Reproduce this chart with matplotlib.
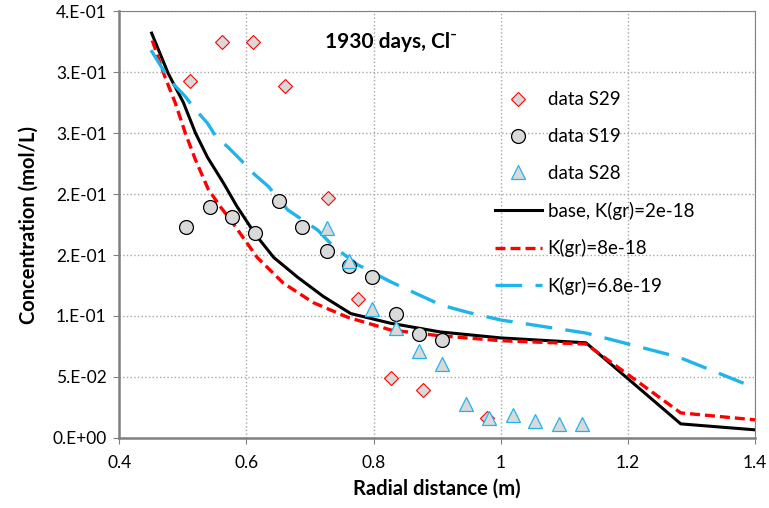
import numpy as np
import matplotlib
matplotlib.use("Agg")
import matplotlib.pyplot as plt

plt.rcParams['font.family'] = ['Lato', 'DejaVu Sans']

# measured data
s29_x = [0.512, 0.562, 0.611, 0.661, 0.728, 0.776, 0.827, 0.877, 0.978]
s29_y = [0.293, 0.325, 0.325, 0.289, 0.197, 0.114, 0.049, 0.039, 0.016]

s19_x = [0.505, 0.542, 0.578, 0.614, 0.652, 0.688, 0.726, 0.762, 0.798, 0.835, 0.872, 0.907]
s19_y = [0.173, 0.189, 0.181, 0.168, 0.194, 0.173, 0.153, 0.141, 0.132, 0.102, 0.085, 0.080]

s28_x = [0.726, 0.761, 0.798, 0.835, 0.872, 0.907, 0.945, 0.981, 1.019, 1.054, 1.091, 1.128]
s28_y = [0.172, 0.145, 0.106, 0.090, 0.071, 0.061, 0.028, 0.016, 0.019, 0.014, 0.011, 0.011]

# model results
base_x = [0.451, 0.477, 0.501, 0.520, 0.539, 0.564, 0.585, 0.614, 0.643, 0.680, 0.721, 0.764,
          0.827, 0.905, 1.0, 1.134, 1.283, 1.4]
base_y = [0.332, 0.299, 0.275, 0.250, 0.230, 0.209, 0.190, 0.167, 0.148, 0.132, 0.116, 0.102,
          0.094, 0.0869, 0.082, 0.078, 0.0115, 0.0066]

k8_x = [0.452, 0.472, 0.488, 0.504, 0.520, 0.540, 0.560, 0.579, 0.617, 0.658, 0.705, 0.759,
        0.827, 0.900, 1.0, 1.134, 1.283, 1.4]
k8_y = [0.326, 0.296, 0.275, 0.250, 0.228, 0.204, 0.189, 0.176, 0.148, 0.127, 0.111, 0.099,
        0.0885, 0.084, 0.0797, 0.077, 0.0205, 0.0148]

k68_x = [0.45, 0.48, 0.504, 0.517, 0.539, 0.551, 0.572, 0.591, 0.613, 0.635, 0.665, 0.712,
         0.737, 0.775, 0.827, 0.906, 0.948, 1.0, 1.134, 1.279, 1.4]
k68_y = [0.318, 0.293, 0.280, 0.271, 0.258, 0.248, 0.238, 0.228, 0.216, 0.206, 0.187, 0.1705,
         0.157, 0.142, 0.128, 0.109, 0.103, 0.0967, 0.086, 0.0664, 0.041]

y_ticks = [0, 0.05, 0.1, 0.15, 0.2, 0.25, 0.3, 0.35]
y_labels = ['0.E+00', '5.E-02', '1.E-01', '2.E-01', '2.E-01', '3.E-01', '3.E-01', '4.E-01']
x_ticks = [0.4, 0.6, 0.8, 1.0, 1.2, 1.4]
x_labels = ['0.4', '0.6', '0.8', '1', '1.2', '1.4']

fig = plt.figure(figsize=(7.69, 5.08), dpi=100)
ax = fig.add_axes([0.155, 0.138, 0.827, 0.840])

ax.plot(s29_x, s29_y, 'D', ms=7, mfc='#d9d9d9', mec='red', mew=0.8, label='data S29', zorder=4)
ax.plot(s19_x, s19_y, 'o', ms=10, mfc='#d9d9d9', mec='black', mew=0.9, label='data S19', zorder=4)
ax.plot(s28_x, s28_y, '^', ms=10, mfc='#d9d9d9', mec='#1fb4ea', mew=0.9, label='data S28', zorder=4)
ax.plot(base_x, base_y, '-', color='black', lw=2.2, label='base, K(gr)=2e-18', zorder=3)
ax.plot(k8_x, k8_y, '--', color='red', lw=2.4, dashes=(3, 1.5), label='K(gr)=8e-18', zorder=3)
ax.plot(k68_x, k68_y, '--', color='#1fb4ea', lw=2.4, dashes=(8, 4), label='K(gr)=6.8e-19', zorder=3)

ax.set_xlim(0.4, 1.4)
ax.set_ylim(0, 0.35)
ax.set_xticks(x_ticks)
ax.set_xticklabels(x_labels, fontsize=12.5)
ax.set_yticks(y_ticks)
ax.set_yticklabels(y_labels, fontsize=12.5)
ax.grid(True, color='#a6a6a6', linestyle=':', linewidth=1)
ax.set_axisbelow(True)
for s in ax.spines.values():
    s.set_color('#808080')
ax.spines['left'].set_linewidth(1.8)
ax.spines['bottom'].set_linewidth(1.8)
ax.tick_params(length=4, color='#808080')
ax.tick_params(axis='x', pad=8)
ax.tick_params(axis='y', pad=5)

ax.set_xlabel('Radial distance (m)', fontsize=14.5, fontweight='bold', labelpad=6)
ax.set_ylabel('Concentration (mol/L)', fontsize=14.5, fontweight='bold', labelpad=10)

ax.text(0.828, 0.325, '1930 days, Cl\u207b', fontsize=15, fontweight='bold',
        ha='center', va='center')

ax.legend(loc='upper left', bbox_to_anchor=(0.591, 0.812), frameon=False, fontsize=13.5,
          handlelength=2.5, labelspacing=1.05, handletextpad=0.3,
          borderpad=0, borderaxespad=0)

plt.savefig('out.png', dpi=100)
